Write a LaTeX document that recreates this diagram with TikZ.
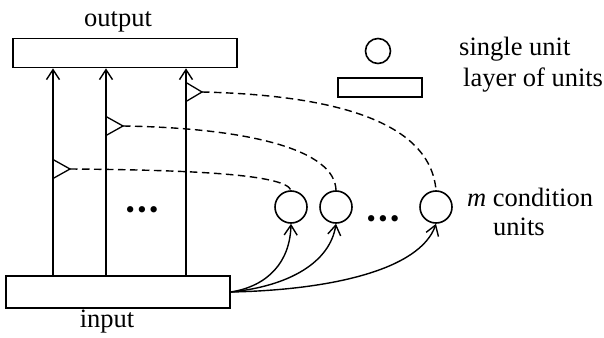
\documentclass[tikz,border=0pt]{standalone}
\usepackage{fontspec}
\setmainfont{Liberation Serif}
\usetikzlibrary{arrows.meta}
\tikzset{
  layer/.style={draw, line width=1.7pt, rectangle, inner sep=0pt},
  unit/.style={draw, line width=1.6pt, circle, inner sep=0pt, minimum size=32pt},
  lbl/.style={inner sep=0pt, font=\fontsize{26.5}{30}\selectfont},
  dots/.style={inner sep=0pt, font=\fontsize{26.5}{30}\selectfont},
  feed/.style={line width=1.4pt, -{Straight Barb[length=10pt,width=13pt,line width=1.4pt]}},
  gate/.style={line width=1.3pt, line join=miter},
  cond/.style={line width=1.4pt, dash pattern=on 7.5pt off 4.5pt},
}
\begin{document}
\begin{tikzpicture}[x=1pt,y=-1pt]
\useasboundingbox (0,0) rectangle (604,337);

% layers
\node[layer, minimum width=224pt, minimum height=29pt] (out) at (125,53) {};
\node[layer, minimum width=224pt, minimum height=32pt] (in) at (118,292) {};
\node[lbl, anchor=base] (outlbl) at (118,27) {output};
\node[lbl, anchor=base] (inlbl) at (107,327) {input};

% columns from input to output layer
\coordinate (c1) at (53,0);
\coordinate (c2) at (106,0);
\coordinate (c3) at (186,0);
\foreach \c in {c1,c2,c3}
  \draw[feed] (in.north -| \c) -- (out.south -| \c);

% gating triangles on the columns
\coordinate (g1) at (70,169);
\coordinate (g2) at (123,126);
\coordinate (g3) at (202,92);
\draw[gate] (53,159.5) -- (g1) -- (53,178.5);
\draw[gate] (106,116.5) -- (g2) -- (106,135.5);
\draw[gate] (186,82.5) -- (g3) -- (186,101.5);

\node[dots] (ldots) at (142,213) {•\hspace{2.5pt}•\hspace{2.5pt}•};

% condition units
\node[unit] (u1) at (291,207) {};
\node[unit] (u2) at (336,207) {};
\node[unit] (u3) at (436,207) {};
\node[dots] (rdots) at (383,222) {•\hspace{2.5pt}•\hspace{2.5pt}•};

% input to condition units
\draw[feed] (in.east) .. controls (268,286) and (290,262) .. (u1.south);
\draw[feed] (in.east) .. controls (290,286) and (330,262) .. (u2.south);
\draw[feed] (in.east) .. controls (330,290) and (420,270) .. (u3.south);

% condition units to gates
\draw[cond] (g1) .. controls (200,170) and (285,175) .. (u1.north);
\draw[cond] (g2) .. controls (250,128) and (335,150) .. (u2.north);
\draw[cond] (g3) .. controls (330,95) and (430,120) .. (u3.north);

\node[lbl, anchor=base west] (mlbl) at (467,206) {\textit{m} condition};
\node[lbl, anchor=base west] (ulbl) at (493,235) {units};

% legend
\node[unit, minimum size=25pt] (lgu) at (378,51) {};
\node[layer, line width=1.3pt, minimum width=84pt, minimum height=19pt] (lgl) at (380,87.5) {};
\node[lbl, anchor=base west] (lgut) at (459,56) {single unit};
\node[lbl, anchor=base west] (lglt) at (463,86) {layer of units};
\end{tikzpicture}
\end{document}
